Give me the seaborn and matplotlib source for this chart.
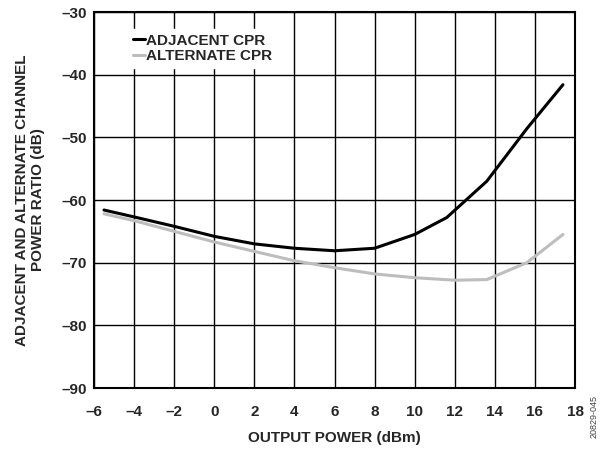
import pandas as pd
import numpy as np
import matplotlib
matplotlib.use("Agg")
import matplotlib.pyplot as plt
import seaborn as sns
from matplotlib.ticker import FuncFormatter, MultipleLocator

# Datos
adj_x = [-5.5, -4, -2, 0, 2, 4, 6, 8, 10, 11.6, 13.6, 15.6, 17.4]
adj_y = [-61.6, -62.7, -64.2, -65.8, -67.0, -67.7, -68.1, -67.7, -65.5, -62.8, -57.0, -48.6, -41.6]
alt_x = [-5.5, -4, -2, 0, 2, 4, 6, 8, 10, 12, 13.6, 15.6, 17.4]
alt_y = [-62.2, -63.3, -65.0, -66.7, -68.2, -69.7, -70.8, -71.8, -72.4, -72.8, -72.7, -70.0, -65.5]
x_ticks = list(range(-6, 19, 2))
y_ticks = list(range(-90, -29, 10))

df = pd.concat([
    pd.DataFrame({"x": adj_x, "y": adj_y, "serie": "ADJACENT CPR"}),
    pd.DataFrame({"x": alt_x, "y": alt_y, "serie": "ALTERNATE CPR"}),
])

sns.set_style("white")
plt.rcParams['font.family'] = ['Liberation Sans', 'DejaVu Sans']
plt.rcParams['font.weight'] = 'bold'

fig = plt.figure(figsize=(6.03, 4.55), dpi=100)
ax = fig.add_axes([94 / 603, 1 - 388 / 455, (575 - 94) / 603, (388 - 12) / 455])

sns.lineplot(data=df, x="x", y="y", hue="serie", palette=["black", "#bdbdbd"],
             linewidth=2.2, ax=ax, sort=False, estimator=None)

ax.set_xlim(-6, 18)
ax.set_ylim(-90, -30)
ax.set_xticks(x_ticks)
ax.set_yticks(y_ticks)
fmt = FuncFormatter(lambda v, p: f"{int(v)}".replace("-", "\u2013"))
ax.xaxis.set_major_formatter(fmt)
ax.yaxis.set_major_formatter(fmt)
ax.grid(True, color="black", linewidth=1.0)
ax.set_axisbelow(True)
for s in ax.spines.values():
    s.set_color("black")
    s.set_linewidth(1.5)
ax.tick_params(length=0, labelsize=11)
ax.tick_params(axis="x", pad=12)
ax.tick_params(axis="y", pad=5)
for lab in ax.get_xticklabels() + ax.get_yticklabels():
    lab.set_fontweight("bold")

ax.set_xlabel("OUTPUT POWER (dBm)", fontsize=11, fontweight="bold", labelpad=9)
ax.set_ylabel("ADJACENT AND ALTERNATE CHANNEL\nPOWER RATIO (dB)", fontsize=11,
              fontweight="bold", labelpad=12)

leg = ax.legend(loc="upper left", bbox_to_anchor=(0.055, 0.975), frameon=True,
                fancybox=False, handlelength=0.8, handletextpad=0.1,
                borderpad=0.3, labelspacing=0.1, prop={"weight": "bold", "size": 11})
leg.get_frame().set_edgecolor("white")
leg.get_frame().set_facecolor("white")
leg.get_frame().set_alpha(1)

fig.text(0.985, 0.085, "20829-045", rotation=90, fontsize=6.5, color="#444444",
         fontweight="normal", ha="center", va="center")

fig.savefig("out.png", dpi=100)
